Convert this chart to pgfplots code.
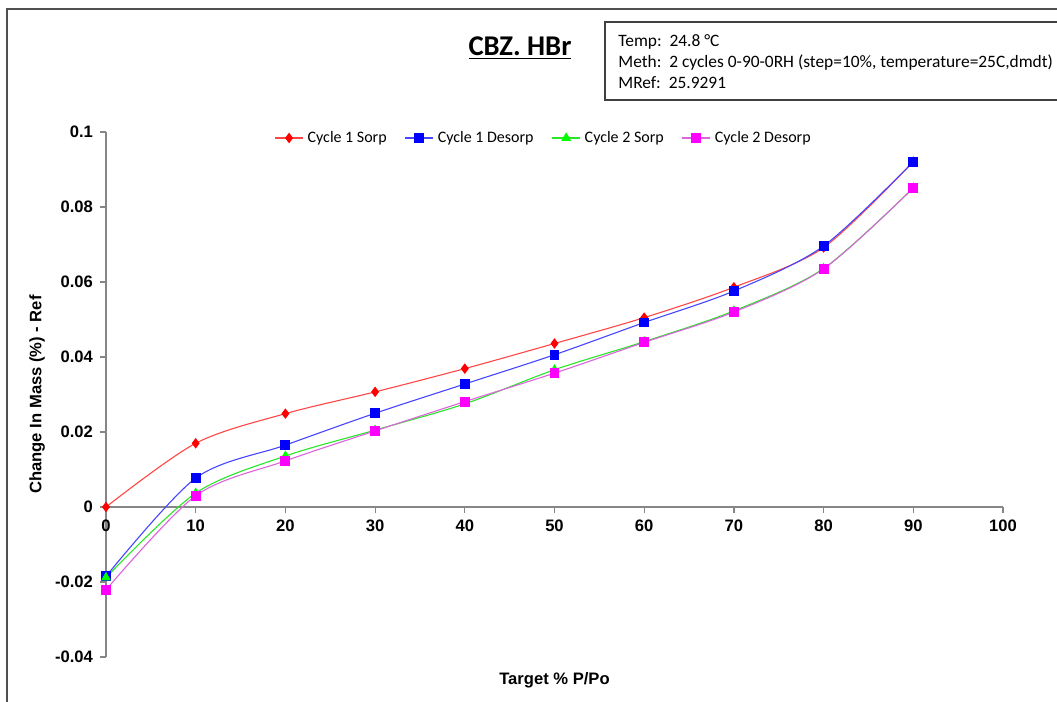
\documentclass[border=0pt]{standalone}
\usepackage{fontspec}
\setmainfont{Carlito}
\newfontfamily\arial{Liberation Sans}
\usepackage{pgfplots}
\pgfplotsset{compat=1.18}
\definecolor{axgray}{RGB}{134,134,134}
\definecolor{framegray}{RGB}{80,80,80}
\definecolor{cred}{RGB}{255,0,0}
\definecolor{cblue}{RGB}{0,0,255}
\definecolor{cgreen}{RGB}{0,255,0}
\definecolor{cmag}{RGB}{255,0,255}
\definecolor{lred}{RGB}{255,70,70}
\definecolor{lblue}{RGB}{70,70,255}
\definecolor{lgreen}{RGB}{40,230,40}
\definecolor{lmag}{RGB}{220,100,220}
\begin{document}
\begin{tikzpicture}
\useasboundingbox (0,0) rectangle (528.5pt,-351pt);
\fill[white] (0,0) rectangle (528.5pt,-351pt);
\begin{scope}[x=0.5pt,y=-0.5pt]
\draw[framegray, line width=0.6pt] (7,703) -- (7,9) -- (1058,9);
\draw[black!75, line width=0.7pt] (1060,22) -- (605,22) -- (605,100) -- (1060,100);
\node[anchor=base west, inner sep=0pt, font=\fontsize{8.7}{10}\selectfont] at (618,46) {Temp:\ \ 24.8 °C};
\node[anchor=base west, inner sep=0pt, font=\fontsize{8.7}{10}\selectfont] at (618,67) {Meth:\ \ 2 cycles 0-90-0RH (step=10\%, temperature=25C,dmdt)};
\node[anchor=base west, inner sep=0pt, font=\fontsize{8.7}{10}\selectfont] at (618,88) {MRef:\ \ 25.9291};
\end{scope}
\begin{axis}[
 at={(53pt,-328.5pt)}, anchor=south west,
 scale only axis, width=448.5pt, height=262.5pt,
 xmin=0, xmax=100, ymin=-0.04, ymax=0.1,
 clip=false,
 axis x line=middle, axis y line=left,
 axis line style={-, draw=axgray, line width=0.6pt},
 tick style={draw=axgray, line width=0.6pt},
 tick align=outside, major tick length=3pt,
 hide obscured x ticks=false, hide obscured y ticks=false,
 xtick={0,10,20,30,40,50,60,70,80,90,100},
 xticklabels={0,10,20,30,40,50,60,70,80,90,100},
 ytick={-0.04,-0.02,0,0.02,0.04,0.06,0.08,0.1},
 yticklabels={-0.04,-0.02,0,0.02,0.04,0.06,0.08,0.1},
 tick label style={font=\arial\bfseries\fontsize{8.3}{10}\selectfont},
 xlabel={Target \% P/Po}, ylabel={Change In Mass (\%) - Ref},
 label style={font=\arial\bfseries\fontsize{8.3}{10}\selectfont},
 xlabel style={at={(axis description cs:0.5,-0.0438)}, anchor=center},
 ylabel style={at={(axis description cs:-0.0769,0.5)}, anchor=center, rotate=0},
 title={\underline{\textbf{CBZ. HBr}}},
 title style={at={(axis description cs:0.4615,1.137)}, anchor=center, font=\fontsize{14.3}{16}\selectfont},
 legend style={at={(axis description cs:0.489,0.9886)}, anchor=center, draw=none, fill=none,
   legend columns=4, font=\fontsize{8}{9}\selectfont,
   /tikz/every even column/.append style={column sep=7pt}},
 legend cell align=left,
 legend image code/.code={\draw[mark repeat=2,mark phase=2,#1] plot coordinates {(0pt,0pt) (7pt,0pt) (14pt,0pt)};},
]
\addplot[lred, line width=0.55pt, smooth, mark=diamond*, mark size=2.2pt, mark options={solid, draw=cred, fill=cred}] coordinates {
(0,0) (10,0.0170) (20,0.0249) (30,0.0307) (40,0.0369) (50,0.0436) (60,0.0505) (70,0.0586) (80,0.0692) (90,0.0921)};
\addlegendentry{Cycle 1 Sorp}
\addplot[lblue, line width=0.55pt, smooth, mark=square*, mark size=2.2pt, mark options={solid, draw=cblue, fill=cblue}] coordinates {
(0,-0.0185) (10,0.0077) (20,0.0165) (30,0.0250) (40,0.0328) (50,0.0406) (60,0.0492) (70,0.0576) (80,0.0696) (90,0.0921)};
\addlegendentry{Cycle 1 Desorp}
\addplot[lgreen, line width=0.55pt, smooth, mark=triangle*, mark size=2.3pt, mark options={solid, draw=cgreen, fill=cgreen}] coordinates {
(0,-0.0188) (10,0.0037) (20,0.0136) (30,0.0205) (40,0.0275) (50,0.0366) (60,0.0441) (70,0.0523) (80,0.0636) (90,0.0851)};
\addlegendentry{Cycle 2 Sorp}
\addplot[lmag, line width=0.55pt, smooth, mark=square*, mark size=2.2pt, mark options={solid, draw=cmag, fill=cmag}] coordinates {
(0,-0.0221) (10,0.0030) (20,0.0123) (30,0.0203) (40,0.0281) (50,0.0357) (60,0.0439) (70,0.0520) (80,0.0635) (90,0.0851)};
\addlegendentry{Cycle 2 Desorp}
\end{axis}
\end{tikzpicture}
\end{document}
